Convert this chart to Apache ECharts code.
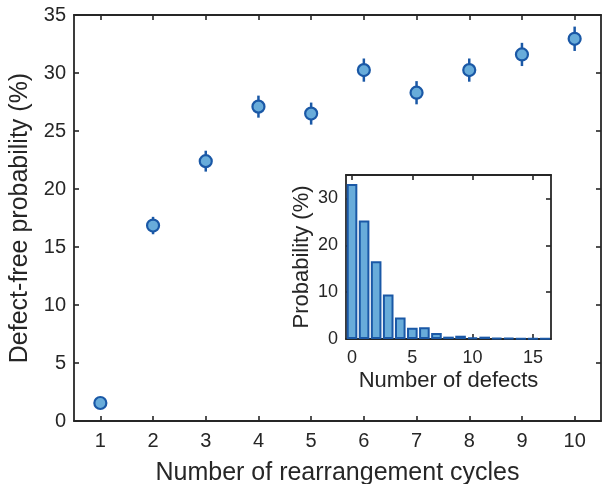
<!DOCTYPE html>
<html>
<head>
<meta charset="utf-8">
<script src="https://cdn.jsdelivr.net/npm/echarts@6/dist/echarts.min.js"></script>
<style>
  html, body { margin: 0; padding: 0; background: #fff; }
  #chart { width: 602px; height: 484px; }
</style>
</head>
<body>
<div id="chart"></div>
<script>
// main plot: defect-free probability vs. number of cycles
let cycles = ['1', '2', '3', '4', '5', '6', '7', '8', '9', '10'];
let defectFree = [1.55, 16.85, 22.4, 27.1, 26.5, 30.25, 28.3, 30.25, 31.6, 32.95];
let defectFreeErr = [0.3, 0.75, 0.9, 0.95, 0.95, 1.0, 1.0, 1.0, 1.0, 1.05];

// inset: histogram of number of defects
let defects = ['0', '1', '2', '3', '4', '5', '6', '7', '8', '9', '10', '11', '12', '13', '14', '15', '16'];
let defectProb = [33.1, 25.3, 16.6, 9.5, 4.6, 2.4, 2.5, 1.3, 0.5, 0.7, 0.3, 0.5, 0.2, 0.2, 0.1, 0.1, 0.1];

let textColor = '#262626';
let lineColor = '#262626';
let fillColor = '#68acda';
let edgeColor = '#1a58a6';
let font = '"Liberation Sans", Arial, sans-serif';

let axisLine = {show: true, onZero: false, lineStyle: {color: lineColor, width: 1.8}};
let tick = {show: true, inside: true, length: 5, lineStyle: {color: lineColor, width: 1.6}};

let errData = cycles.map(function (c, i) {
  return [i, defectFree[i] - defectFreeErr[i], defectFree[i] + defectFreeErr[i]];
});

let everyFifth = function (index) { return index % 5 === 0; };

let option = {
  backgroundColor: '#fff',
  animation: false,
  textStyle: {fontFamily: font},
  grid: [
    {left: 74, top: 15, right: 1, bottom: 63, outerBoundsMode: 'none', containLabel: false},
    {left: 346, top: 175, right: 51, bottom: 145, outerBoundsMode: 'none', containLabel: false,
      show: true, backgroundColor: '#fff', borderWidth: 0}
  ],
  xAxis: [
    {
      type: 'category', gridIndex: 0, data: cycles, boundaryGap: true,
      axisLine: axisLine,
      axisTick: Object.assign({alignWithLabel: true}, tick),
      axisLabel: {color: textColor, fontSize: 20, margin: 10},
      splitLine: {show: false},
      name: 'Number of rearrangement cycles', nameLocation: 'middle', nameGap: 40,
      nameTextStyle: {color: textColor, fontSize: 25}
    },
    {
      type: 'category', gridIndex: 0, data: cycles, boundaryGap: true, position: 'top',
      axisLine: axisLine,
      axisTick: Object.assign({alignWithLabel: true}, tick),
      axisLabel: {show: false}, splitLine: {show: false}
    },
    {
      type: 'category', gridIndex: 1, data: defects, boundaryGap: true,
      axisLine: axisLine,
      axisTick: Object.assign({alignWithLabel: true, interval: everyFifth}, tick),
      axisLabel: {color: textColor, fontSize: 18, margin: 10, interval: everyFifth},
      splitLine: {show: false},
      name: 'Number of defects', nameLocation: 'middle', nameGap: 31,
      nameTextStyle: {color: textColor, fontSize: 22}
    },
    {
      type: 'category', gridIndex: 1, data: defects, boundaryGap: true, position: 'top',
      axisLine: axisLine,
      axisTick: Object.assign({alignWithLabel: true, interval: everyFifth}, tick),
      axisLabel: {show: false}, splitLine: {show: false}
    }
  ],
  yAxis: [
    {
      type: 'value', gridIndex: 0, min: 0, max: 35, interval: 5,
      axisLine: axisLine, axisTick: tick,
      axisLabel: {color: textColor, fontSize: 20, margin: 8},
      splitLine: {show: false},
      name: 'Defect-free probability (%)', nameLocation: 'middle', nameGap: 34,
      nameTextStyle: {color: textColor, fontSize: 25}
    },
    {
      type: 'value', gridIndex: 0, min: 0, max: 35, interval: 5, position: 'right',
      axisLine: axisLine, axisTick: tick,
      axisLabel: {show: false}, splitLine: {show: false}
    },
    {
      type: 'value', gridIndex: 1, min: 0, max: 35, interval: 10,
      axisLine: axisLine, axisTick: tick,
      axisLabel: {color: textColor, fontSize: 18, margin: 8, showMaxLabel: false},
      splitLine: {show: false},
      name: 'Probability (%)', nameLocation: 'middle', nameGap: 33,
      nameTextStyle: {color: textColor, fontSize: 22}
    },
    {
      type: 'value', gridIndex: 1, min: 0, max: 35, interval: 10, position: 'right',
      axisLine: axisLine, axisTick: tick,
      axisLabel: {show: false}, splitLine: {show: false}
    }
  ],
  series: [
    {
      type: 'custom',
      xAxisIndex: 0, yAxisIndex: 0,
      data: errData,
      z: 2,
      renderItem: function (params, api) {
        let lo = api.coord([api.value(0), api.value(1)]);
        let hi = api.coord([api.value(0), api.value(2)]);
        return {
          type: 'line',
          shape: {x1: lo[0], y1: lo[1], x2: hi[0], y2: hi[1]},
          style: {stroke: edgeColor, lineWidth: 2.5}
        };
      }
    },
    {
      type: 'scatter',
      xAxisIndex: 0, yAxisIndex: 0,
      data: defectFree,
      z: 3,
      symbol: 'circle', symbolSize: 12,
      itemStyle: {color: fillColor, borderColor: edgeColor, borderWidth: 2.2, opacity: 1}
    },
    {
      type: 'bar',
      xAxisIndex: 2, yAxisIndex: 2,
      data: defectProb,
      barWidth: '88%',
      itemStyle: {color: fillColor, borderColor: edgeColor, borderWidth: 2}
    }
  ]
};

let myChart = echarts.init(document.getElementById('chart'));
myChart.setOption(option);
</script>
</body>
</html>
